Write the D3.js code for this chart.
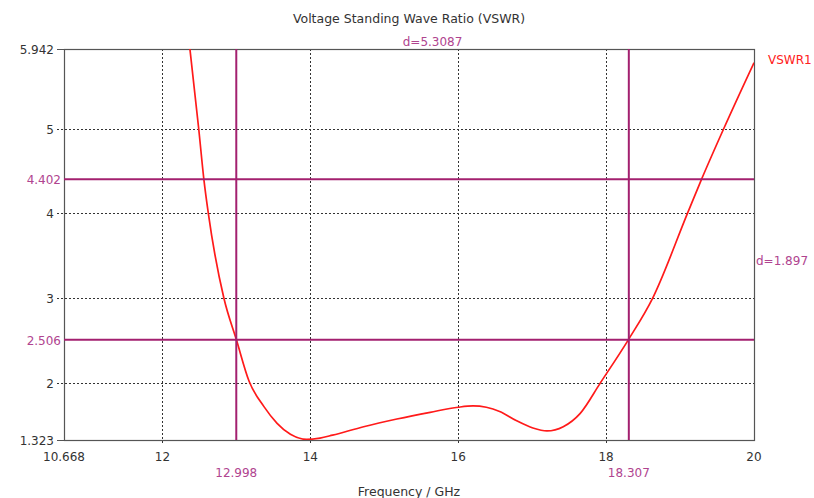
<!DOCTYPE html>
<html>
<head>
<meta charset="utf-8">
<script src="https://cdn.jsdelivr.net/npm/d3@7"></script>
<style>
  body { margin: 0; background: #fff; }
  svg { display: block; }
  text { font-family: "DejaVu Sans", Verdana, sans-serif; }
</style>
</head>
<body>
<div id="chart"></div>
<script>
// VSWR curve (GHz, ratio)
const freq = [12.37, 12.49, 12.56, 12.62, 12.83, 13.00, 13.17, 13.37, 13.55, 13.73, 13.95, 14.13,
  14.30, 14.72, 15.17, 15.62, 16.00, 16.20, 16.56, 16.79, 17.01, 17.20, 17.42, 17.65, 17.92,
  18.30, 18.63, 19.10, 19.29, 19.59, 20.00]
const vswr = [5.95, 5.00, 4.40, 4.00, 3.00, 2.506, 2.02, 1.72, 1.52, 1.39, 1.33, 1.345,
  1.38, 1.48, 1.571, 1.65, 1.71, 1.725, 1.66, 1.55, 1.465, 1.43, 1.48, 1.638, 1.995,
  2.506, 3.00, 4.00, 4.402, 5.00, 5.78]

const xDomain = [10.668, 20]
const yDomain = [1.323, 5.942]
const xTicks = [12, 14, 16, 18]
const yTicks = [2, 3, 4, 5]
const markerX = [12.998, 18.307]
const markerY = [4.402, 2.506]
const deltaX = 'd=5.3087'
const deltaY = 'd=1.897'

const width = 814
const height = 498
const margin = { top: 49, right: 60, bottom: 58, left: 64 }
const purple = '#a3206f'
const purpleText = '#b0448f'

const svg = d3.select('#chart').append('svg')
  .attr('width', width)
  .attr('height', height)

const x = d3.scaleLinear().domain(xDomain).range([margin.left, width - margin.right])
const y = d3.scaleLinear().domain(yDomain).range([height - margin.bottom, margin.top])

const x0 = x.range()[0]
const x1 = x.range()[1]
const y0 = y.range()[0]
const y1 = y.range()[1]

svg.append('defs').append('clipPath').attr('id', 'clip')
  .append('rect')
  .attr('x', x0).attr('y', y1)
  .attr('width', x1 - x0).attr('height', y0 - y1)

// dotted grid
let grid = svg.append('g').attr('stroke', '#333').attr('stroke-width', 1).attr('stroke-dasharray', '2,2')
grid.selectAll('.gx').data(xTicks).enter().append('line')
  .attr('x1', d => Math.round(x(d)) + 0.5).attr('x2', d => Math.round(x(d)) + 0.5)
  .attr('y1', y1).attr('y2', y0 + 5)
grid.selectAll('.gy').data(yTicks).enter().append('line')
  .attr('x1', x0 - 7).attr('x2', x1)
  .attr('y1', d => Math.round(y(d)) + 0.5).attr('y2', d => Math.round(y(d)) + 0.5)

// end ticks
svg.append('line').attr('x1', x0 - 7).attr('x2', x0).attr('y1', y1 + 0.5).attr('y2', y1 + 0.5).attr('stroke', '#555')
svg.append('line').attr('x1', x0 - 7).attr('x2', x0).attr('y1', y0 + 0.5).attr('y2', y0 + 0.5).attr('stroke', '#555')

// frame
svg.append('rect')
  .attr('x', x0 + 0.5).attr('y', y1 + 0.5)
  .attr('width', x1 - x0).attr('height', y0 - y1)
  .attr('fill', 'none').attr('stroke', '#555').attr('stroke-width', 1.2)

// tick labels
const tickFont = 12
svg.selectAll('.xl').data([xDomain[0]].concat(xTicks, [xDomain[1]])).enter().append('text')
  .attr('x', d => x(d)).attr('y', y0 + 21)
  .attr('text-anchor', 'middle').attr('font-size', tickFont).attr('fill', '#333')
  .text(d => d === xDomain[0] ? '10.668' : d)
svg.selectAll('.yl').data([yDomain[0]].concat(yTicks, [yDomain[1]])).enter().append('text')
  .attr('x', x0 - 10).attr('y', d => y(d) + 5)
  .attr('text-anchor', 'end').attr('font-size', tickFont).attr('fill', '#333')
  .text(d => d === yDomain[0] ? '1.323' : d === yDomain[1] ? '5.942' : d)

// curve
const line = d3.line()
  .x((d, i) => x(freq[i]))
  .y(d => y(d))
  .curve(d3.curveMonotoneX)
svg.append('path')
  .datum(vswr)
  .attr('clip-path', 'url(#clip)')
  .attr('fill', 'none')
  .attr('stroke', '#ff1a1a')
  .attr('stroke-width', 1.7)
  .attr('d', line)

// markers
let mk = svg.append('g').attr('stroke', purple).attr('stroke-width', 2)
mk.selectAll('.mx').data(markerX).enter().append('line')
  .attr('x1', d => x(d)).attr('x2', d => x(d)).attr('y1', y1).attr('y2', y0)
mk.selectAll('.my').data(markerY).enter().append('line')
  .attr('x1', x0).attr('x2', x1).attr('y1', d => y(d)).attr('y2', d => y(d))

svg.selectAll('.mxl').data(markerX).enter().append('text')
  .attr('x', d => x(d)).attr('y', y0 + 37)
  .attr('text-anchor', 'middle').attr('font-size', tickFont).attr('fill', purpleText)
  .text(d => d.toFixed(3))
svg.selectAll('.myl').data(markerY).enter().append('text')
  .attr('x', x0 - 3).attr('y', d => y(d) + 5)
  .attr('text-anchor', 'end').attr('font-size', tickFont).attr('fill', purpleText)
  .text(d => d.toFixed(3))

svg.append('text')
  .attr('x', (x(markerX[0]) + x(markerX[1])) / 2).attr('y', y1 - 3)
  .attr('text-anchor', 'middle').attr('font-size', tickFont).attr('fill', purpleText)
  .text(deltaX)
svg.append('text')
  .attr('x', x1 + 2).attr('y', (y(markerY[0]) + y(markerY[1])) / 2 + 5)
  .attr('font-size', tickFont).attr('fill', purpleText)
  .text(deltaY)

// titles + legend
svg.append('text')
  .attr('x', 409).attr('y', 23)
  .attr('text-anchor', 'middle').attr('font-size', 12.5).attr('fill', '#333')
  .text('Voltage Standing Wave Ratio (VSWR)')
svg.append('text')
  .attr('x', 409).attr('y', 496)
  .attr('text-anchor', 'middle').attr('font-size', 12.5).attr('fill', '#333')
  .text('Frequency / GHz')
svg.append('text')
  .attr('x', 768).attr('y', 64)
  .attr('font-size', 12).attr('fill', '#ff2020')
  .text('VSWR1')
</script>
</body>
</html>
